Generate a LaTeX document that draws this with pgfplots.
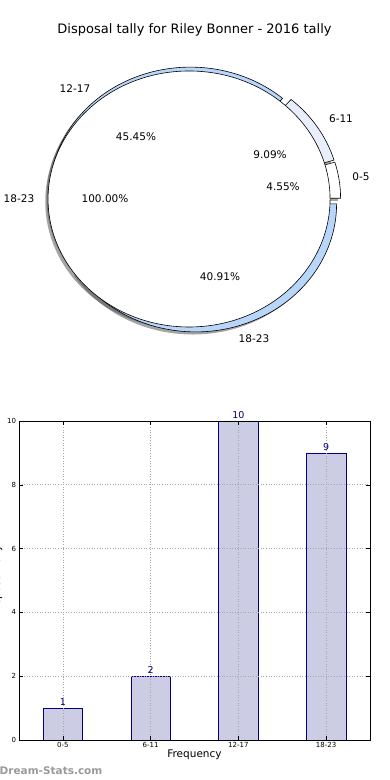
\documentclass[border=0pt]{standalone}
\usepackage{fontspec}
\setmainfont{DejaVu Sans}
\usepackage{pgfplots}
\pgfplotsset{compat=1.18}
\usepackage{pgfplotstable}
\definecolor{cA}{HTML}{FFFFFF}
\definecolor{cB}{HTML}{E8EEFC}
\definecolor{cC}{HTML}{B8D6FA}
\definecolor{cD}{HTML}{B8D6FA}
\definecolor{barfill}{HTML}{CCCCE5}
\definecolor{navy}{HTML}{000080}
\definecolor{shad}{rgb}{0.3,0.3,0.3}
\definecolor{wm}{HTML}{9A9A9A}

\pgfplotstableread{
x label y
0 0-5 1
1 6-11 2
2 12-17 10
3 18-23 9
}\tally

% pie geometry (pt): centre, radii, explode, shadow offset
\def\cx{194}\def\cy{581}\def\rx{141}\def\ry{128}
\pgfmathsetmacro\tot{1+2+10+9}
\pgfmathsetmacro\aA{0}
\pgfmathsetmacro\aB{360*1/\tot}
\pgfmathsetmacro\aC{360*(1+2)/\tot}
\pgfmathsetmacro\aD{360*(1+2+10)/\tot}
\pgfmathsetmacro\aE{360}
\pgfmathsetmacro\exA{\cx+0.04*\rx*cos((\aA+\aB)/2)}\pgfmathsetmacro\eyA{\cy+0.04*\ry*sin((\aA+\aB)/2)}
\pgfmathsetmacro\exB{\cx+0.04*\rx*cos((\aB+\aC)/2)}\pgfmathsetmacro\eyB{\cy+0.04*\ry*sin((\aB+\aC)/2)}
\pgfmathsetmacro\exC{\cx+0.04*\rx*cos((\aC+\aD)/2)}\pgfmathsetmacro\eyC{\cy+0.04*\ry*sin((\aC+\aD)/2)}
\pgfmathsetmacro\exD{\cx+0.04*\rx*cos((\aD+\aE)/2)}\pgfmathsetmacro\eyD{\cy+0.04*\ry*sin((\aD+\aE)/2)}
\pgfmathsetmacro\exI{\cx-0.035*\rx}
\def\sx{-2.8}\def\sy{-2.6}

\newcommand{\wedgepath}[4]{(axis cs:#1,#2) -- ++(#3:\rx pt and \ry pt) arc[start angle=#3, end angle=#4, x radius=\rx pt, y radius=\ry pt] -- cycle}

\begin{document}
\begin{tikzpicture}
% ---------- pie ----------
\begin{axis}[at={(0pt,0pt)}, anchor=south west, x=1pt, y=1pt,
  xmin=0, xmax=390, ymin=0, ymax=780, axis lines=none, clip=false,
  disabledatascaling]
 % shadows
 \fill[shad, opacity=0.5] \wedgepath{\exA+\sx}{\eyA+\sy}{\aA}{\aB};
 \fill[shad, opacity=0.5] \wedgepath{\exB+\sx}{\eyB+\sy}{\aB}{\aC};
 \fill[shad, opacity=0.5] \wedgepath{\exC+\sx}{\eyC+\sy}{\aC}{\aD};
 \fill[shad, opacity=0.5] \wedgepath{\exD+\sx}{\eyD+\sy}{\aD}{\aE};
 \fill[shad, opacity=0.5] (axis cs:\exI+\sx,\cy+\sy) ellipse[x radius=\rx pt, y radius=\ry pt];
 % outer wedges
 \filldraw[fill=cA, draw=black, line width=0.6pt] \wedgepath{\exA}{\eyA}{\aA}{\aB};
 \filldraw[fill=cB, draw=black, line width=0.6pt] \wedgepath{\exB}{\eyB}{\aB}{\aC};
 \filldraw[fill=cC, draw=black, line width=0.6pt] \wedgepath{\exC}{\eyC}{\aC}{\aD};
 \filldraw[fill=cD, draw=black, line width=0.6pt] \wedgepath{\exD}{\eyD}{\aD}{\aE};
 % inner single wedge (100%)
 \filldraw[fill=white, draw=black, line width=0.6pt] (axis cs:\exI,\cy) ellipse[x radius=\rx pt, y radius=\ry pt];
 % labels
 \begin{scope}[every node/.style={font=\fontsize{10.5}{12}\selectfont, inner sep=0pt}]
 \node at (axis cs:75,691) {12-17};
 \node at (axis cs:341,661) {6-11};
 \node at (axis cs:361,603) {0-5};
 \node at (axis cs:19,581) {18-23};
 \node at (axis cs:254,441) {18-23};
 \node at (axis cs:136,643) {45.45\%};
 \node at (axis cs:270,625) {9.09\%};
 \node at (axis cs:283,593) {4.55\%};
 \node at (axis cs:105,581) {100.00\%};
 \node at (axis cs:220,503) {40.91\%};
 \end{scope}
 \node[font=\fontsize{13}{15}\selectfont, inner sep=0pt] at (axis cs:194.5,750) {Disposal tally for Riley Bonner - 2016 tally};
\end{axis}
% ---------- bars ----------
\begin{axis}[at={(19pt,40pt)}, anchor=south west, scale only axis,
  width=351pt, height=319pt,
  xmin=-0.5, xmax=3.5, ymin=0, ymax=10,
  xtick={0,1,2,3}, xticklabels={0-5,6-11,12-17,18-23},
  ytick={0,2,4,6,8,10},
  grid=major, grid style={gray!70, line width=0.6pt, dash pattern=on 1pt off 1.6pt},
  axis on top, clip=false,
  tick align=inside, major tick length=4pt,
  tick style={black, line width=0.5pt},
  axis line style={black, line width=0.7pt},
  ticklabel style={font=\fontsize{7}{8}\selectfont},
  xticklabel style={yshift=1pt},
  yticklabel style={xshift=0.5pt},
  /pgf/number format/assume math mode=true,
  xlabel={Frequency}, xlabel style={font=\fontsize{10.5}{12}\selectfont, yshift=5pt},
  ylabel={Disposal Tally},
  every axis y label/.style={at={(axis description cs:-0.047,0.5)}, rotate=90, anchor=south, inner sep=0pt, font=\fontsize{10.5}{12}\selectfont},
  ]
 \addplot[ybar, bar width=0.45, fill=barfill, draw=navy, line width=0.6pt,
   nodes near coords, nodes near coords style={text=navy, font=\fontsize{9.5}{10}\selectfont, yshift=-1pt}]
   table[x=x, y=y] {\tally};
\end{axis}
\node[anchor=west, text=wm, font=\fontsize{10.5}{12}\selectfont\bfseries, inner sep=0pt] at (-0.5pt,9pt) {Dream-Stats.com};
\pgfresetboundingbox
\path[use as bounding box] (0pt,0pt) rectangle (390pt,780pt);
\end{tikzpicture}
\end{document}
